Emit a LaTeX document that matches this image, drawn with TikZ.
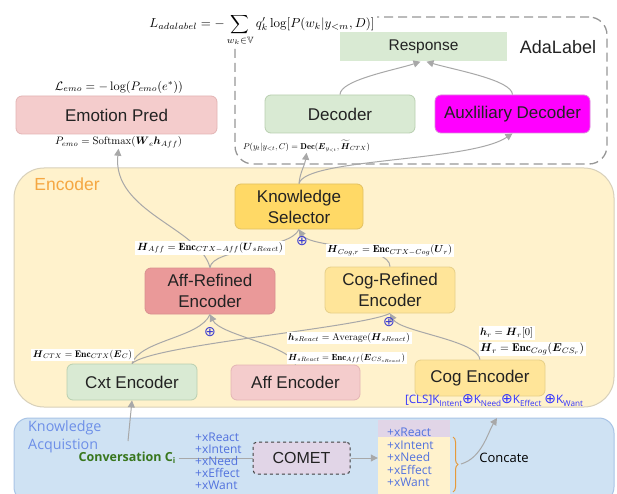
\documentclass[tikz,border=0pt]{standalone}
\usepackage{amsmath,amssymb}
\usepackage{fontspec}
\usepackage{graphicx}
\usetikzlibrary{arrows.meta,decorations.pathreplacing}
\newfontfamily\lsans{Liberation Sans}
\newfontfamily\osans{Open Sans}
\newfontfamily\djv{DejaVu Sans}
\newcommand{\fmla}[2]{\resizebox{#1pt}{!}{$#2$}}
\newcommand{\bsym}[1]{\boldsymbol{#1}}
\definecolor{arrg}{HTML}{A8A8A8}
\definecolor{txt}{HTML}{222222}
\definecolor{pinkf}{HTML}{F4CCCC}
\definecolor{pinkb}{HTML}{E3B5B5}
\definecolor{redf}{HTML}{EA9999}
\definecolor{redb}{HTML}{D99090}
\definecolor{greenf}{HTML}{D9EAD3}
\definecolor{greenb}{HTML}{B9CFB0}
\definecolor{goldf}{HTML}{FFD966}
\definecolor{goldb}{HTML}{E2C163}
\definecolor{yelf}{HTML}{FFE599}
\definecolor{yelb}{HTML}{E6CF88}
\definecolor{encf}{HTML}{FFF2CC}
\definecolor{encb}{HTML}{D8D0BA}
\definecolor{kaf}{HTML}{CFE2F3}
\definecolor{kab}{HTML}{A9C4E6}
\definecolor{purp}{HTML}{E1D5E7}
\definecolor{magf}{HTML}{FF00FF}
\definecolor{magb}{HTML}{D98AD9}
\definecolor{opc}{HTML}{3B3BD0}
\definecolor{listc}{HTML}{5272DE}
\definecolor{kac}{HTML}{6D8FE8}
\definecolor{convg}{HTML}{38761D}
\definecolor{encl}{HTML}{F5A742}
\definecolor{bracec}{HTML}{E69A3A}
\definecolor{clsc}{HTML}{3333FF}
\begin{document}
\begin{tikzpicture}[x=1pt,y=-1pt,
  box/.style={draw, rounded corners=6pt, line width=0.8pt, font=\lsans\fontsize{17}{21}\selectfont, text=txt, inner sep=0pt, align=center},
  arr/.style={draw=arrg, line width=1pt, -{Triangle[length=7pt,width=7pt]}},
  plainln/.style={draw=arrg, line width=1pt},
  frm/.style={inner sep=1.5pt, fill=white},
  frmn/.style={inner sep=1pt},
  opl/.style={text=opc, inner sep=0pt, font=\djv\fontsize{14}{14}\selectfont},
  lst/.style={anchor=west, inner sep=0pt, text=listc, font=\osans\fontsize{12}{13}\selectfont}
]
\clip (0,0) rectangle (617,494);
\fill[white] (0,0) rectangle (617,494);

% containers
\node[draw=arrg!90!black, dashed, dash pattern=on 9pt off 5pt, line width=1.3pt, rounded corners=18pt, minimum width=372pt, minimum height=147pt, inner sep=0pt] (ada) at (421,90.5) {};
\node[draw=encb, fill=encf, line width=1pt, rounded corners=30pt, minimum width=600pt, minimum height=239pt, inner sep=0pt] (enc) at (314,287.5) {};
\node[draw=kab, fill=kaf, line width=1pt, rounded corners=15pt, minimum width=600pt, minimum height=84pt, inner sep=0pt] (kacq) at (314,460) {};

% labels of containers
\node[text=encl, font=\lsans\fontsize{17.5}{20}\selectfont, inner sep=0pt] (enclab) at (67,184) {Encoder};
\node[text=txt, font=\lsans\fontsize{18}{20}\selectfont, inner sep=0pt] (adalab) at (558,47) {AdaLabel};
\node[text=kac, font=\osans\fontsize{14.3}{18}\selectfont, anchor=north west, align=left, inner sep=0pt] (kalab) at (28,420) {Knowledge\\Acquistion};

% top formula
\node[frm, inner sep=2pt] (ladal) at (262,30) {\fmla{225}{\displaystyle L_{adalabel} = -\sum_{w_k\in\mathbb{V}} q'_k \log[P(w_k|y_{<m}, D)]}};

% boxes
\node[fill=greenf, minimum width=167pt, minimum height=29pt, inner sep=0pt, font=\lsans\fontsize{15.5}{18}\selectfont, text=txt] (resp) at (423.5,47) {Response};
\node[box, draw=pinkb, fill=pinkf, minimum width=201pt, minimum height=38pt] (emo) at (116.5,115) {Emotion Pred};
\node[box, draw=greenb, fill=greenf, minimum width=150pt, minimum height=38pt] (dec) at (340,114) {Decoder};
\node[box, draw=magb, fill=magf, minimum width=155pt, minimum height=38pt] (aux) at (512.5,114) {Auxliliary Decoder};
\node[box, draw=goldb, fill=goldf, minimum width=128pt, minimum height=45pt] (ks) at (299,206.5) {Knowledge\\Selector};
\node[box, draw=redb, fill=redf, minimum width=130pt, minimum height=46pt] (affr) at (210,291) {Aff-Refined\\Encoder};
\node[box, draw=yelb, fill=yelf, minimum width=130pt, minimum height=46pt] (cogr) at (390,290) {Cog-Refined\\Encoder};
\node[box, draw=greenb, fill=greenf, minimum width=130pt, minimum height=36pt] (cxt) at (132,382) {Cxt Encoder};
\node[box, draw=pinkb, fill=pinkf, minimum width=129pt, minimum height=35pt] (affe) at (295.5,382.5) {Aff Encoder};
\node[box, draw=yelb, fill=yelf, minimum width=130pt, minimum height=36pt] (coge) at (480,378) {Cog Encoder};

% formulas
\node[frmn] (lemo) at (119,87) {\fmla{128}{\mathcal{L}_{emo} = -\log(P_{emo}(e^*))}};
\node[frmn] (pemo) at (118.5,142) {\fmla{127}{P_{emo} = \mathrm{Softmax}(\bsym{W}_e \bsym{h}_{Aff})}};
\node[frmn] (pdec) at (306.5,146) {\fmla{127}{P(y_t|y_{<t}, C) = \mathbf{Dec}(\bsym{E}_{y_{<t}}, \widetilde{\bsym{H}}_{CTX})}};

% connectors (upper)
\draw[arr] (dec.north) .. controls (340,80) and (395,70) .. ([xshift=-3pt]resp.south);
\draw[arr] (aux.north) .. controls (512,80) and (455,70) .. ([xshift=3pt]resp.south);
\draw[arr] (ks.north) .. controls (300,172) and (305,165) .. (pdec.south);
\draw[arr] (ks.north) .. controls (305,158) and (470,162) .. (aux.south);
\draw[arr] (affr.north) .. controls (200,228) and (112,212) .. (pemo.south);
\draw[plainln] (affr.north) .. controls (212,248) and (290,250) .. (ks.south);
\draw[arr] (cogr.north) .. controls (390,245) and (310,248) .. (ks.south);
\draw[plainln] (cxt.north) .. controls (140,340) and (200,338) .. (affr.south);
\draw[arr] (affe.north) .. controls (290,345) and (220,335) .. (affr.south);
\draw[plainln] (cxt.north) .. controls (150,345) and (360,328) .. (cogr.south);
\draw[arr] (coge.north) .. controls (478,340) and (400,332) .. (cogr.south);

% formulas with white background in encoder
\node[frm] (haff) at (210,248) {\fmla{146}{\bsym{H}_{Aff} = \mathbf{Enc}_{CTX-Aff}(\bsym{U}_{sReact})}};
\node[frm] (hcog) at (389.5,250.5) {\fmla{125}{\bsym{H}_{Cog,r} = \mathbf{Enc}_{CTX-Cog}(\bsym{U}_r)}};
\node[frm] (hctx) at (82.5,355) {\fmla{99}{\bsym{H}_{CTX} = \mathbf{Enc}_{CTX}(\bsym{E}_C)}};
\node[frm] (hsr1) at (349,338) {\fmla{122}{\bsym{h}_{sReact} = \mathrm{Average}(\bsym{H}_{sReact})}};
\node[frm] (hsr2) at (346.5,358) {\fmla{117}{\bsym{H}_{sReact} = \mathbf{Enc}_{Aff}(\bsym{E}_{CS_{sReact}})}};
\node[frm] (hr1) at (506.5,333) {\fmla{53}{\bsym{h}_r = \bsym{H}_r[0]}};
\node[frm] (hr2) at (532,349) {\fmla{104}{\bsym{H}_r = \mathbf{Enc}_{Cog}(\bsym{E}_{CS_r})}};

% oplus markers
\node[opl] (op1) at (302,241) {⊕};
\node[opl] (op2) at (210,332) {⊕};
\node[opl] (op3) at (389,322) {⊕};

% CLS line
\node[inner sep=0pt, text=clsc] (cls) at (494,401) {\resizebox{178pt}{!}{\osans [CLS]K\raisebox{-2.5pt}{\fontsize{7}{7}\selectfont Intent}{\djv\fontsize{12}{12}\selectfont ⊕}K\raisebox{-2.5pt}{\fontsize{7}{7}\selectfont Need}{\djv\fontsize{12}{12}\selectfont ⊕}K\raisebox{-2.5pt}{\fontsize{7}{7}\selectfont Effect} {\djv\fontsize{12}{12}\selectfont ⊕}K\raisebox{-2.5pt}{\fontsize{7}{7}\selectfont Want}}};

% knowledge acquisition part
\node[text=convg, inner sep=0pt, font=\osans\bfseries\fontsize{12.5}{14}\selectfont] (conv) at (127,458) {Conversation C\raisebox{-2pt}{\fontsize{8}{8}\selectfont i}};
\coordinate (convtop) at (128,441);
\draw[arr] (convtop) -- (cxt.south);

\node[draw=black!75, dashed, line width=1pt, fill=purp, rounded corners=4pt, minimum width=97pt, minimum height=32pt, inner sep=0pt, font=\lsans\fontsize{16}{18}\selectfont, text=txt] (comet) at (301.5,458) {COMET};
\draw[plainln] ([xshift=3pt]conv.east) -- (comet.west);

\node[lst] (ll1) at (195,437) {+xReact};
\node[lst] (ll2) at (195,449) {+xIntent};
\node[lst] (ll3) at (195,461) {+xNeed};
\node[lst] (ll4) at (195,473) {+xEffect};
\node[lst] (ll5) at (195,485) {+xWant};

\node[fill=purp, minimum width=72pt, minimum height=17pt, inner sep=0pt] (lreact) at (414,428.5) {};
\node[fill=encf, minimum width=72pt, minimum height=57pt, inner sep=0pt] (lrest) at (414,465.5) {};
\draw[arr] (comet.east) -- (lrest.west |- comet.east);
\node[lst] (lr1) at (387,432) {+xReact};
\node[lst] (lr2) at (387,445) {+xIntent};
\node[lst] (lr3) at (387,457) {+xNeed};
\node[lst] (lr4) at (387,469.5) {+xEffect};
\node[lst] (lr5) at (387,482) {+xWant};

\draw[decorate, decoration={brace, amplitude=5pt}, draw=bracec, line width=1pt] (453,437) -- (453,492);
\coordinate (bracetip) at (461,464);
\coordinate (clsin) at (497,418);
\draw[arr] (bracetip) .. controls (482,458) and (488,432) .. (clsin);
\node[inner sep=0pt, text=black, font=\osans\fontsize{13}{15}\selectfont] (concate) at (504,458) {Concate};
\end{tikzpicture}
\end{document}
